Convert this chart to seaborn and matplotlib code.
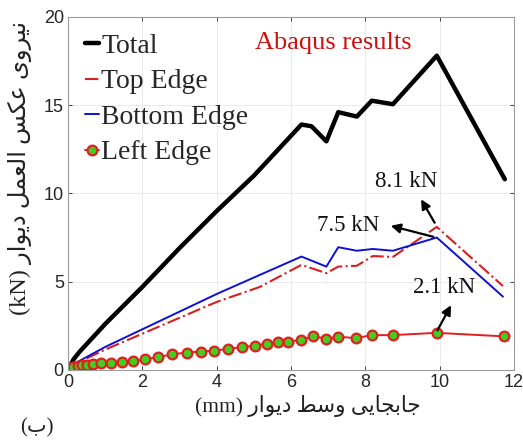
import numpy as np
import pandas as pd
import seaborn as sns
import matplotlib.pyplot as plt

# displacement (mm) / reaction force (kN)
total_x = [0, 0.15, 0.3, 1.0, 2.0, 3.0, 4.0, 5.0, 6.28, 6.55, 6.95, 7.27, 7.77, 8.17, 8.74, 9.92, 11.75]
total_y = [0, 0.6, 1.0, 2.6, 4.7, 6.9, 9.0, 11.0, 13.9, 13.8, 12.95, 14.6, 14.35, 15.25, 15.05, 17.8, 10.8]

top_x = [0, 0.3, 1.0, 2.0, 3.0, 4.0, 5.16, 6.28, 6.95, 7.27, 7.77, 8.2, 8.74, 9.92, 11.7]
top_y = [0, 0.45, 1.15, 2.05, 2.95, 3.85, 4.7, 5.95, 5.48, 5.85, 5.9, 6.45, 6.4, 8.1, 4.75]

bottom_x = [0, 0.3, 1.0, 2.0, 3.0, 4.0, 5.16, 6.28, 6.95, 7.27, 7.77, 8.2, 8.74, 9.92, 11.7]
bottom_y = [0, 0.5, 1.3, 2.3, 3.3, 4.3, 5.38, 6.42, 5.85, 6.95, 6.75, 6.85, 6.75, 7.5, 4.15]

left_x = [0, 0.04, 0.08, 0.13, 0.26, 0.37, 0.5, 0.66, 0.89, 1.16, 1.44, 1.76, 2.07, 2.43,
          2.81, 3.19, 3.57, 3.93, 4.31, 4.69, 5.02, 5.35, 5.65, 5.92, 6.28, 6.6, 6.95,
          7.27, 7.74, 8.18, 8.73, 9.92, 11.72]
left_y = [0, 0.04, 0.08, 0.19, 0.23, 0.26, 0.3, 0.34, 0.38, 0.41, 0.45, 0.51, 0.61, 0.72,
          0.89, 0.98, 1.04, 1.09, 1.19, 1.29, 1.38, 1.47, 1.58, 1.6, 1.7, 1.93, 1.75,
          1.88, 1.8, 1.97, 1.97, 2.1, 1.9]

x_ticks = [0, 2, 4, 6, 8, 10, 12]
y_ticks = [0, 5, 10, 15, 20]

# labels (Persian)
ylabel_fa = 'نیروی عکس العمل دیوار'
xlabel_fa = 'جابجایی وسط دیوار'
panel_fa = 'ب'

# simple Arabic-script shaping (matplotlib has no text shaping)
FORMS = {
    'ا': (0xFE8D, 0xFE8E, None, None),
    'ب': (0xFE8F, 0xFE90, 0xFE91, 0xFE92),
    'ج': (0xFE9D, 0xFE9E, 0xFE9F, 0xFEA0),
    'د': (0xFEA9, 0xFEAA, None, None),
    'ر': (0xFEAD, 0xFEAE, None, None),
    'س': (0xFEB1, 0xFEB2, 0xFEB3, 0xFEB4),
    'ط': (0xFEC1, 0xFEC2, 0xFEC3, 0xFEC4),
    'ع': (0xFEC9, 0xFECA, 0xFECB, 0xFECC),
    'ک': (0xFED9, 0xFEDA, 0xFEDB, 0xFEDC),
    'ل': (0xFEDD, 0xFEDE, 0xFEDF, 0xFEE0),
    'م': (0xFEE1, 0xFEE2, 0xFEE3, 0xFEE4),
    'ن': (0xFEE5, 0xFEE6, 0xFEE7, 0xFEE8),
    'و': (0xFEED, 0xFEEE, None, None),
    'ی': (0xFEEF, 0xFEF0, 0xFEF3, 0xFEF4),
}


def shape(text):
    out = []
    for i, ch in enumerate(text):
        if ch not in FORMS:
            out.append(ch)
            continue
        prev = text[i - 1] if i > 0 else ''
        nxt = text[i + 1] if i + 1 < len(text) else ''
        join_prev = prev in FORMS and FORMS[prev][2] is not None
        join_next = nxt in FORMS and FORMS[ch][2] is not None
        iso, fin, ini, med = FORMS[ch]
        if join_prev and join_next:
            code = med
        elif join_prev:
            code = fin
        elif join_next:
            code = ini
        else:
            code = iso
        out.append(chr(code))
    # visual order for left-to-right drawing
    return ''.join(out)[::-1]


sns.set_theme(style='whitegrid')
plt.rcParams['font.family'] = ['Liberation Sans', 'DejaVu Sans']
plt.rcParams['xtick.direction'] = 'in'
plt.rcParams['ytick.direction'] = 'in'

fig = plt.figure(figsize=(5.23, 4.43), dpi=100)
ax = fig.add_axes([0.130, 0.165, 0.853, 0.797])

red = '#d61f1f'
sns.lineplot(x=total_x, y=total_y, ax=ax, color='black', linewidth=3.2,
             sort=False, estimator=None, label='Total')
sns.lineplot(x=top_x, y=top_y, ax=ax, color=red, linewidth=1.5, linestyle='-.',
             sort=False, estimator=None, label='Top Edge')
sns.lineplot(x=bottom_x, y=bottom_y, ax=ax, color='#1010d0', linewidth=1.4,
             sort=False, estimator=None, label='Bottom Edge')
sns.lineplot(x=left_x, y=left_y, ax=ax, color='#e02020', linewidth=1.4,
             marker='o', markersize=7, markerfacecolor='#44cc22',
             markeredgecolor='#e02020', markeredgewidth=1.6,
             sort=False, estimator=None, label='Left Edge')

ax.set_xlim(0, 12)
ax.set_ylim(0, 20)
ax.set_xticks(x_ticks)
ax.set_yticks(y_ticks)
ax.tick_params(labelsize=13, colors='#262626', length=3, width=0.6,
               bottom=True, left=True, top=True, right=True, pad=3)
ax.grid(True, color='#e6e6e6', linewidth=0.6)
ax.set_facecolor('white')
for sp in ax.spines.values():
    sp.set_color('#9a9a9a')
    sp.set_linewidth(0.8)
ax.set_xlabel('')
ax.set_ylabel('')

leg = ax.legend(loc='upper left', frameon=False, handlelength=0.5,
                handletextpad=0.1, labelspacing=0.36, borderaxespad=0.2,
                prop={'family': 'Liberation Serif', 'size': 20})

ax.text(7.15, 18.5, 'Abaqus results', color='#cc1010', fontsize=19,
        family='Liberation Serif', ha='center', va='center')

arrow = dict(arrowstyle='-|>', color='black', lw=1.6, mutation_scale=14)
ann_font = dict(fontsize=16.5, family='Liberation Serif', color='#111111')
ax.annotate('', xy=(9.46, 9.8), xytext=(9.9, 8.2), arrowprops=arrow)
ax.text(9.1, 10.7, '8.1 kN', ha='center', va='center', **ann_font)
ax.annotate('', xy=(8.61, 8.2), xytext=(9.9, 7.5), arrowprops=arrow)
ax.text(7.55, 8.2, '7.5 kN', ha='center', va='center', **ann_font)
ax.annotate('', xy=(10.34, 3.8), xytext=(9.9, 2.1), arrowprops=arrow)
ax.text(10.12, 4.64, '2.1 kN', ha='center', va='center', **ann_font)

fa_family = ['Liberation Serif', 'DejaVu Sans']
fig.text(20 / 523, 1 - 168 / 443, '(kN) ' + shape(ylabel_fa), rotation=90,
         ha='center', va='center', fontsize=17.5, family=fa_family, color='#222222')
fig.text(308 / 523, 1 - 406 / 443, '(mm) ' + shape(xlabel_fa),
         ha='center', va='center', fontsize=15.5, family=fa_family, color='#222222')
fig.text(37 / 523, 1 - 428 / 443, '(' + shape(panel_fa) + ')',
         ha='center', va='center', fontsize=15, family=fa_family, color='#222222')

fig.savefig('out.png', dpi=100, facecolor='white')
